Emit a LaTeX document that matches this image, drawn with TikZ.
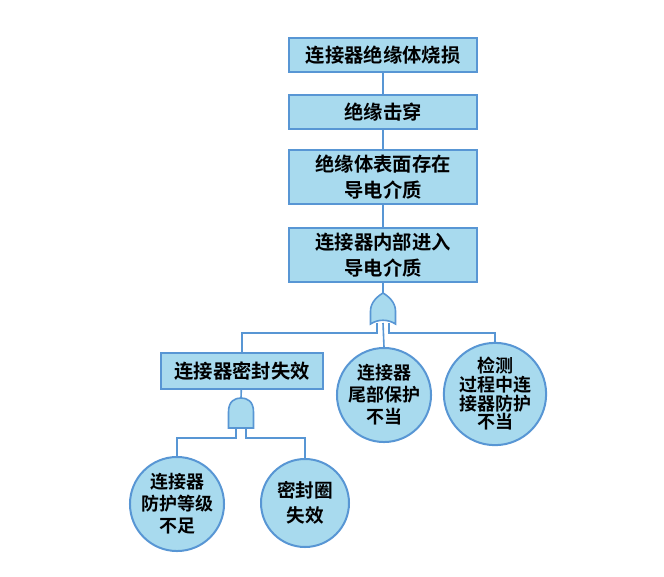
\documentclass[tikz,border=0pt]{standalone}
\usepackage{fontspec}
\usepackage{tikz}
\usetikzlibrary{positioning, shapes, calc}
\usepackage{xcolor}

\newfontfamily\cjk{Noto Sans CJK SC}[BoldFont=* Bold]
\definecolor{fillblue}{RGB}{168,218,238}
\definecolor{lineblue}{RGB}{88,150,212}

\begin{document}
\begin{tikzpicture}[
    x=0.75pt, y=-0.75pt,
    box/.style={draw=lineblue, line width=1.5pt, fill=fillblue, align=center, minimum width=141pt, minimum height=26pt, inner sep=2pt, font=\cjk\bfseries\fontsize{14.5}{19}\selectfont},
    tallbox/.style={box, minimum height=41pt},
    event/.style={circle, draw=lineblue, line width=1.5pt, fill=fillblue, align=center, minimum size=64.5pt, inner sep=0pt, font=\cjk\bfseries\fontsize{13.5}{16.5}\selectfont},
    conn/.style={draw=lineblue, line width=1.2pt},
    gate/.style={draw=lineblue, line width=1.2pt, fill=fillblue},
    orgate/.pic={
        \path[gate] (-12.5,31) -- (-12.5,18) .. controls (-12.5,9) and (-5,3) .. (0,0)
            .. controls (5,3) and (12.5,9) .. (12.5,18) -- (12.5,31)
            .. controls (5,26) and (-5,26) .. cycle;
    },
    andgate/.pic={
        \path[gate] (-12.5,30) -- (-12.5,14) .. controls (-12.5,3) and (-6,0) .. (0,0)
            .. controls (6,0) and (12.5,3) .. (12.5,14) -- (12.5,30) -- cycle;
    }
]
\useasboundingbox (0,0) rectangle (664,576);

% Top event and chain
\node[box] (top) at (383,55) {连接器绝缘体烧损};
\node[box] (breakdown) at (383,112) {绝缘击穿};
\node[tallbox] (surface) at (383,177) {绝缘体表面存在\\导电介质};
\node[tallbox] (inside) at (383,255) {连接器内部进入\\导电介质};

% OR gate
\pic at (383,293) {orgate};
\coordinate (or_top) at (383,293);
\coordinate (or_l) at (377,323);
\coordinate (or_m) at (383,323);
\coordinate (or_r) at (389,323);

% Second level
\node[box, minimum width=121pt, minimum height=27pt] (seal) at (242,371) {连接器密封失效};
\node[event] (tail) at (384,395) {连接器\\尾部保护\\不当};
\node[event, font=\cjk\bfseries\fontsize{13.5}{14}\selectfont] (check) at (495,394) {检测\\过程中连\\接器防护\\不当};

% AND gate
\pic at (241,398) {andgate};
\coordinate (and_top) at (241,398);
\coordinate (and_l) at (236,428);
\coordinate (and_r) at (246,428);

% Basic events
\node[event, minimum size=66pt] (grade) at (177,504) {连接器\\防护等级\\不足};
\node[event, minimum size=66pt, font=\cjk\bfseries\fontsize{14}{19}\selectfont] (ring) at (305,503) {密封圈\\失效};

% Connections
\draw[conn] (top) -- (breakdown);
\draw[conn] (breakdown) -- (surface);
\draw[conn] (surface) -- (inside);
\draw[conn] (inside) -- (or_top);
\draw[conn] (or_l) -- ++(0,10) -| (seal.north);
\draw[conn] (or_m) -- (tail.north);
\draw[conn] (or_r) -- ++(0,10) -| (check.north);
\draw[conn] (seal) -- (and_top);
\draw[conn] (and_l) -- ++(0,10) -| (grade.north);
\draw[conn] (and_r) -- ++(0,10) -| (ring.north);

\end{tikzpicture}
\end{document}
